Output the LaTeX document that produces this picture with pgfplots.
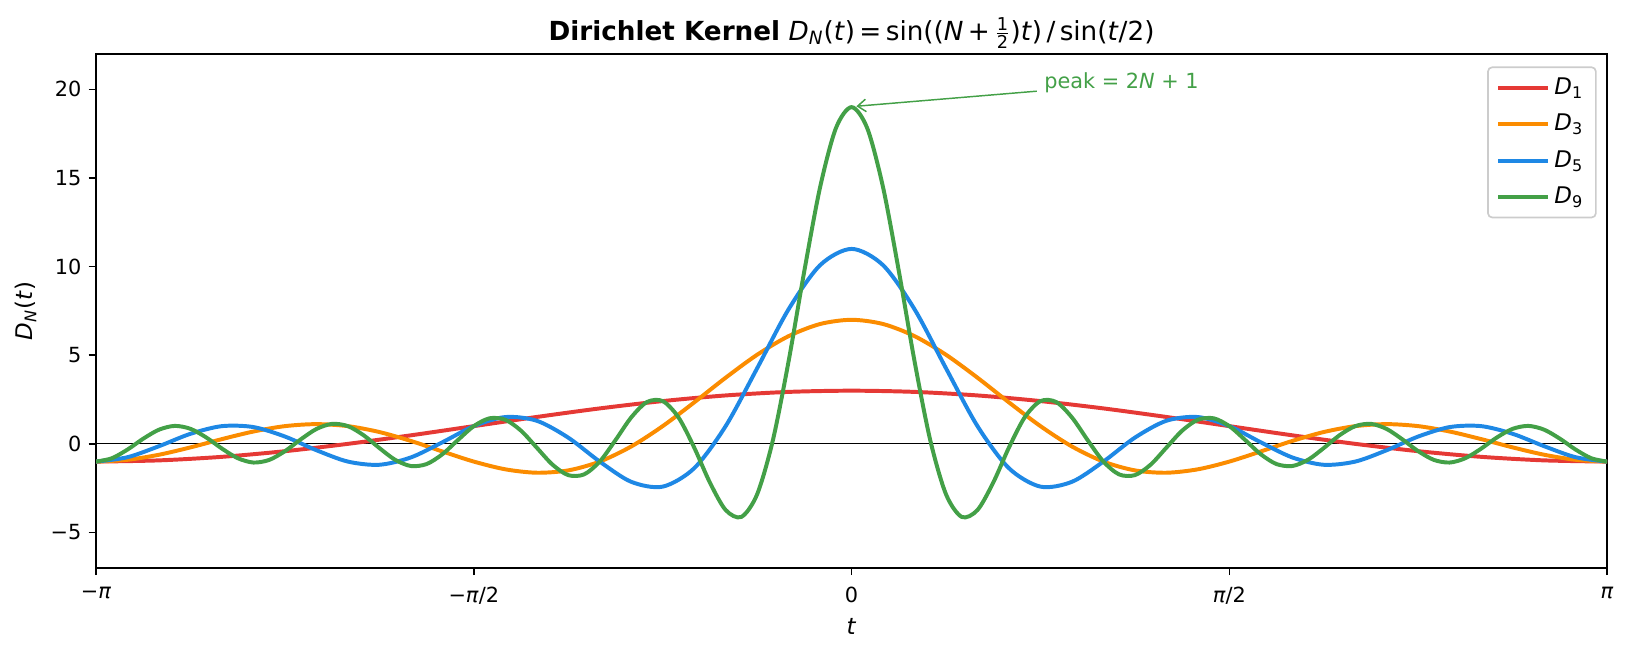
\documentclass[border=0pt]{standalone}
\usepackage{fontspec}
\setmainfont{DejaVu Sans}
\usepackage{pgfplots}
\pgfplotsset{compat=1.18}
\usetikzlibrary{arrows.meta}
\definecolor{cDa}{HTML}{E53935}
\definecolor{cDb}{HTML}{FB8C00}
\definecolor{cDc}{HTML}{1E88E5}
\definecolor{cDd}{HTML}{43A047}
\begin{document}
\begin{tikzpicture}
\begin{axis}[
  width=725.3pt, height=246.7pt, scale only axis,
  xmin=-3.14159, xmax=3.14159, ymin=-7, ymax=22,
  xtick={-3.14159,-1.5708,0,1.5708,3.14159},
  xticklabels={−\textit{π},−\textit{π}/2,0,\textit{π}/2,\textit{π}},
  ytick={-5,0,5,10,15,20},
  yticklabels={−5,0,5,10,15,20},
  tick align=outside, xtick pos=bottom, ytick pos=left,
  major tick length=3.5pt,
  every tick/.style={black, line width=0.8pt},
  axis line style={line width=0.8pt, black},
  tick label style={font=\fontsize{10}{12}\selectfont, black},
  xticklabel style={yshift=-2pt},
  xlabel={\textit{t}},
  ylabel={\textit{D}\textsubscript{\textit{N}}(\textit{t})},
  label style={font=\fontsize{11}{13}\selectfont},
  title={\textbf{Dirichlet Kernel} \textit{D}\textsubscript{\textit{N}}(\textit{t})\,=\,sin((\textit{N}\,+\,$\frac{\mbox{\fontsize{8.5}{9}\selectfont 1}}{\mbox{\fontsize{8.5}{9}\selectfont 2}}$)\textit{t})\,/\,sin(\textit{t}/2)},
  title style={font=\fontsize{12.6}{15}\selectfont, yshift=-7pt},
  legend style={at={(1,1)}, anchor=north east, xshift=-5pt, yshift=-6pt,
    draw=black!20, line width=0.8pt, rounded corners=2pt,
    font=\fontsize{11}{13}\selectfont, inner xsep=4pt, inner ysep=3pt, row sep=4pt},
  legend cell align=left,
  legend image code/.code={\draw[#1, line width=1.9pt] (0pt,0pt) -- (24pt,0pt);},
]
\addplot[black, line width=0.6pt, forget plot] coordinates {(-3.14159,0) (3.14159,0)};

\addplot[cDa, line width=1.9pt, smooth] coordinates {
(-3.14159,-1.000) (-2.8798,-0.932) (-2.6180,-0.732) (-2.3562,-0.414) (-2.0944,0.000)
(-1.8326,0.482) (-1.5708,1.000) (-1.3090,1.518) (-1.0472,2.000) (-0.7854,2.414)
(-0.5236,2.732) (-0.2618,2.932) (0,3.000)
(0.2618,2.932) (0.5236,2.732) (0.7854,2.414) (1.0472,2.000) (1.3090,1.518)
(1.5708,1.000) (1.8326,0.482) (2.0944,0.000) (2.3562,-0.414) (2.6180,-0.732)
(2.8798,-0.932) (3.14159,-1.000)};
\addlegendentry{\textit{D}\textsubscript{1}}

\addplot[cDb, line width=1.9pt, smooth] coordinates {
(-3.14159,-1.000) (-3.0107,-0.899) (-2.8798,-0.614) (-2.7489,-0.199) (-2.6180,0.268)
(-2.4871,0.696) (-2.3562,1.000) (-2.2253,1.113) (-2.0944,1.000) (-1.9635,0.668)
(-1.8326,0.165) (-1.7017,-0.428) (-1.5708,-1.000) (-1.4399,-1.436) (-1.3090,-1.629)
(-1.1781,-1.497) (-1.0472,-1.000) (-0.9163,-0.148) (-0.7854,1.000) (-0.6545,2.339)
(-0.5236,3.732) (-0.3927,5.027) (-0.2618,6.078) (-0.1309,6.762) (0,7.000)
(0.1309,6.762) (0.2618,6.078) (0.3927,5.027) (0.5236,3.732) (0.6545,2.339)
(0.7854,1.000) (0.9163,-0.148) (1.0472,-1.000) (1.1781,-1.497) (1.3090,-1.629)
(1.4399,-1.436) (1.5708,-1.000) (1.7017,-0.428) (1.8326,0.165) (1.9635,0.668)
(2.0944,1.000) (2.2253,1.113) (2.3562,1.000) (2.4871,0.696) (2.6180,0.268)
(2.7489,-0.199) (2.8798,-0.614) (3.0107,-0.899) (3.14159,-1.000)};
\addlegendentry{\textit{D}\textsubscript{3}}

\addplot[cDc, line width=1.9pt, smooth] coordinates {
(-3.14159,-1.000) (-3.0107,-0.754) (-2.8798,-0.132) (-2.7489,0.567) (-2.6180,1.000)
(-2.4871,0.947) (-2.3562,0.414) (-2.2253,-0.358) (-2.0944,-1.000) (-1.9635,-1.180)
(-1.8326,-0.767) (-1.7017,0.087) (-1.5708,1.000) (-1.4399,1.513) (-1.3090,1.303)
(-1.1781,0.351) (-1.0472,-1.000) (-0.9163,-2.141) (-0.7854,-2.414) (-0.6545,-1.376)
(-0.5236,1.000) (-0.3927,4.262) (-0.2618,7.596) (-0.1309,10.081) (0,11.000)
(0.1309,10.081) (0.2618,7.596) (0.3927,4.262) (0.5236,1.000) (0.6545,-1.376)
(0.7854,-2.414) (0.9163,-2.141) (1.0472,-1.000) (1.1781,0.351) (1.3090,1.303)
(1.4399,1.513) (1.5708,1.000) (1.7017,0.087) (1.8326,-0.767) (1.9635,-1.180)
(2.0944,-1.000) (2.2253,-0.358) (2.3562,0.414) (2.4871,0.947) (2.6180,1.000)
(2.7489,0.567) (2.8798,-0.132) (3.0107,-0.754) (3.14159,-1.000)};
\addlegendentry{\textit{D}\textsubscript{5}}

\addplot[cDd, line width=1.9pt, smooth] coordinates {
(-3.14159,-1.000) (-3.07614,-0.813) (-3.0107,-0.322) (-2.94524,0.292) (-2.8798,0.800)
(-2.81434,1.013) (-2.7489,0.848) (-2.68344,0.362) (-2.6180,-0.268) (-2.55254,-0.808)
(-2.4871,-1.054) (-2.42164,-0.907) (-2.3562,-0.414) (-2.29074,0.249) (-2.2253,0.838)
(-2.15985,1.128) (-2.0944,1.000) (-2.02895,0.486) (-1.9635,-0.235) (-1.89805,-0.898)
(-1.8326,-1.250) (-1.76715,-1.141) (-1.7017,-0.588) (-1.63625,0.223) (-1.5708,1.000)
(-1.50535,1.443) (-1.4399,1.360) (-1.37445,0.743) (-1.3090,-0.214) (-1.24355,-1.174)
(-1.1781,-1.765) (-1.11265,-1.725) (-1.0472,-1.000) (-0.98175,0.208) (-0.9163,1.491)
(-0.85085,2.360) (-0.7854,2.414) (-0.71995,1.499) (-0.6545,-0.204) (-0.58905,-2.185)
(-0.5236,-3.732) (-0.45815,-4.122) (-0.3927,-2.848) (-0.32725,0.201) (-0.2618,4.664)
(-0.19635,9.763) (-0.1309,14.478) (-0.06545,17.802) (0,19.000)
(0.06545,17.802) (0.1309,14.478) (0.19635,9.763) (0.2618,4.664) (0.32725,0.201)
(0.3927,-2.848) (0.45815,-4.122) (0.5236,-3.732) (0.58905,-2.185) (0.6545,-0.204)
(0.71995,1.499) (0.7854,2.414) (0.85085,2.360) (0.9163,1.491) (0.98175,0.208)
(1.0472,-1.000) (1.11265,-1.725) (1.1781,-1.765) (1.24355,-1.174) (1.3090,-0.214)
(1.37445,0.743) (1.4399,1.360) (1.50535,1.443) (1.5708,1.000) (1.63625,0.223)
(1.7017,-0.588) (1.76715,-1.141) (1.8326,-1.250) (1.89805,-0.898) (1.9635,-0.235)
(2.02895,0.486) (2.0944,1.000) (2.15985,1.128) (2.2253,0.838) (2.29074,0.249)
(2.3562,-0.414) (2.42164,-0.907) (2.4871,-1.054) (2.55254,-0.808) (2.6180,-0.268)
(2.68344,0.362) (2.7489,0.848) (2.81434,1.013) (2.8798,0.800) (2.94524,0.292)
(3.0107,-0.322) (3.07614,-0.813) (3.14159,-1.000)};
\addlegendentry{\textit{D}\textsubscript{9}}

\node[anchor=west, text=cDd, font=\fontsize{10}{12}\selectfont, inner sep=0pt] at (axis cs:0.80,20.35) {peak = 2\textit{N} + 1};
\draw[cDd, line width=0.7pt, -{Straight Barb[length=4pt,width=6pt]}] (axis cs:0.77,19.9) -- (axis cs:0.02,19.05);
\end{axis}
\path ([xshift=-46.1pt,yshift=-40.8pt]current axis.south west) rectangle ([xshift=11pt,yshift=25.9pt]current axis.north east);
\end{tikzpicture}
\end{document}
